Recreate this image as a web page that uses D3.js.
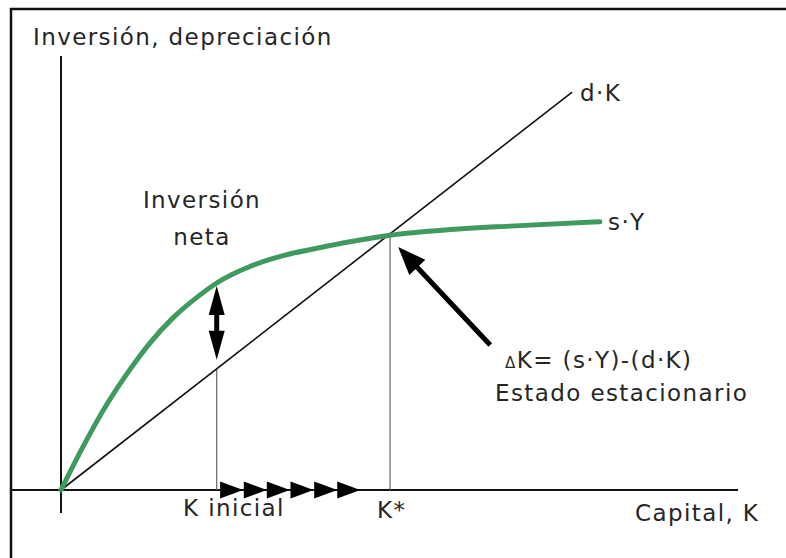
<!DOCTYPE html>
<html>
<head>
<meta charset="utf-8">
<script src="https://cdn.jsdelivr.net/npm/d3@7"></script>
<style>
  body { margin: 0; background: #fff; }
  text { font-family: "DejaVu Sans", "Open Sans", sans-serif; fill: #262626; letter-spacing: 1.4px; }
</style>
</head>
<body>
<svg id="chart" width="786" height="558"></svg>
<script>
// capital stock and savings curve (s·Y)
var capital = [0, 0.33, 0.68, 1.02, 1.31, 1.65, 2.05, 2.30, 2.79, 3.28, 3.78, 4.27, 4.86, 5.75, 6.63, 7.96];
var savings = [0, 1.01, 1.98, 2.78, 3.38, 3.96, 4.49, 4.77, 5.15, 5.40, 5.57, 5.72, 5.87, 6.00, 6.08, 6.18];

// depreciation line d·K (start and end)
var deprK = [0, 7.55];
var deprY = [0, 9.17];

var kInicial = 2.30;
var kStar = 4.86;
var netInv = [3.0, 4.70];          // double arrow bottom / top
var convergence = [2.69, 3.04, 3.38, 3.73, 4.08, 4.42];  // arrow tips on the K axis
var bigArrow = {from: [6.34, 3.34], to: [4.98, 5.60]};

var svg = d3.select("#chart");

var x = d3.scaleLinear().domain([0, 10]).range([61, 738]);
var y = d3.scaleLinear().domain([0, 10]).range([490, 56]);

// frame (only top and left visible)
svg.append("path")
  .attr("d", "M11,558 V9 H786")
  .attr("fill", "none")
  .attr("stroke", "#111")
  .attr("stroke-width", 2.5);

// axes
svg.append("line")
  .attr("x1", x(0)).attr("x2", x(0))
  .attr("y1", y(10)).attr("y2", y(-0.53))
  .attr("stroke", "#111").attr("stroke-width", 2);
svg.append("line")
  .attr("x1", 11).attr("x2", x(10))
  .attr("y1", y(0)).attr("y2", y(0))
  .attr("stroke", "#111").attr("stroke-width", 2);

// guide lines
svg.append("line")
  .attr("x1", x(kInicial)).attr("x2", x(kInicial))
  .attr("y1", y(0)).attr("y2", y(kInicial * deprY[1] / deprK[1]))
  .attr("stroke", "#666").attr("stroke-width", 1.2);
svg.append("line")
  .attr("x1", x(kStar)).attr("x2", x(kStar))
  .attr("y1", y(0)).attr("y2", y(kStar * deprY[1] / deprK[1]))
  .attr("stroke", "#666").attr("stroke-width", 1.2);

// d·K
svg.append("line")
  .attr("x1", x(deprK[0])).attr("y1", y(deprY[0]))
  .attr("x2", x(deprK[1])).attr("y2", y(deprY[1]))
  .attr("stroke", "#111").attr("stroke-width", 1.6);

// s·Y
var line = d3.line()
  .x(function(d, i) { return x(capital[i]); })
  .y(function(d) { return y(d); })
  .curve(d3.curveMonotoneX);
svg.append("path")
  .datum(savings)
  .attr("d", line)
  .attr("fill", "none")
  .attr("stroke", "#3f9a60")
  .attr("stroke-width", 5)
  .attr("stroke-linecap", "round");

// net investment double arrow
var ax = x(kInicial), yTop = y(netInv[1]), yBot = y(netInv[0]);
svg.append("line")
  .attr("x1", ax).attr("x2", ax)
  .attr("y1", yTop + 20).attr("y2", yBot - 20)
  .attr("stroke", "#000").attr("stroke-width", 5);
svg.append("path")
  .attr("d", "M" + ax + "," + yTop + " L" + (ax + 8) + "," + (yTop + 29) + " L" + (ax - 8) + "," + (yTop + 29) + "Z")
  .attr("fill", "#000");
svg.append("path")
  .attr("d", "M" + ax + "," + yBot + " L" + (ax + 8) + "," + (yBot - 29) + " L" + (ax - 8) + "," + (yBot - 29) + "Z")
  .attr("fill", "#000");

// convergence arrows on the K axis
svg.selectAll("path.conv")
  .data(convergence)
  .enter()
  .append("path")
  .attr("class", "conv")
  .attr("d", function(d) {
    var tx = x(d), ty = y(0);
    return "M" + tx + "," + ty + " L" + (tx - 23) + "," + (ty - 8.5) + " L" + (tx - 23) + "," + (ty + 8.5) + "Z";
  })
  .attr("fill", "#000");

// steady state arrow
var fx = x(bigArrow.from[0]), fy = y(bigArrow.from[1]);
var tx = x(bigArrow.to[0]), ty = y(bigArrow.to[1]);
var ang = Math.atan2(ty - fy, tx - fx);
var hl = 28, hw = 11;
var bx = tx - hl * Math.cos(ang), by = ty - hl * Math.sin(ang);
svg.append("line")
  .attr("x1", fx).attr("y1", fy).attr("x2", bx + 2 * Math.cos(ang)).attr("y2", by + 2 * Math.sin(ang))
  .attr("stroke", "#000").attr("stroke-width", 5);
svg.append("path")
  .attr("d", "M" + tx + "," + ty +
    " L" + (bx + hw * Math.sin(ang)) + "," + (by - hw * Math.cos(ang)) +
    " L" + (bx - hw * Math.sin(ang)) + "," + (by + hw * Math.cos(ang)) + "Z")
  .attr("fill", "#000");

// labels
function label(txt, px, py, size, anchor) {
  return svg.append("text")
    .attr("x", px).attr("y", py)
    .attr("dy", "0.35em")
    .attr("font-size", size)
    .attr("text-anchor", anchor || "start")
    .text(txt);
}
label("Inversión, depreciación", 33, 37, 23);
label("Inversión", 202, 200, 23, "middle");
label("neta", 202, 237, 23, "middle");
label("d·K", 580, 93, 23);
label("s·Y", 608, 222, 23);
var dk = label("", 505, 360, 23);
dk.append("tspan").attr("font-size", 15).text("Δ");
dk.append("tspan").text("K= (s·Y)-(d·K)");
label("Estado estacionario", 495, 393, 23);
label("K inicial", 183, 508, 23);
label("K*", 377, 510, 23);
label("Capital, K", 635, 513, 23);
</script>
</body>
</html>
